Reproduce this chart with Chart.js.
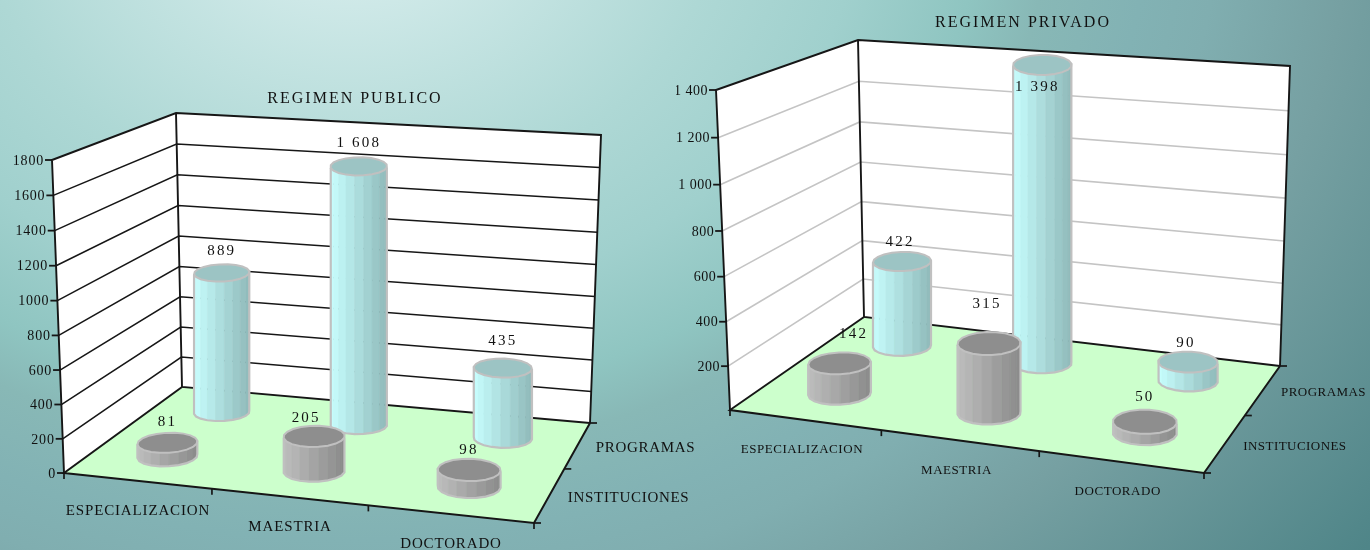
<!DOCTYPE html>
<html>
<head>
    <meta charset="UTF-8">
    <title>Regimen publico y privado</title>
    <script src="https://cdn.jsdelivr.net/npm/chart.js"></script>
    <style>
        html, body { margin: 0; height: 100%; overflow: hidden; }
        body {
            width: 1370px; height: 550px; position: relative;
            background: radial-gradient(ellipse 1000px 800px at 350px -100px, #d6ecec 0, #cfe9e8 12%, #aed8d5 37%, #a0d0cd 51%, #8fc5c1 63%, #88b8b6 70%, #82b2b4 80%, #80aeb0 87%, #76a0a2 100%, #4f8588 130%);
        }
        .panel { position: absolute; top: 0; height: 550px; }
        canvas { display: block; }
    </style>
</head>
<body>
    <div class="panel" style="left:0;width:710px"><canvas id="publico"></canvas></div>
    <div class="panel" style="left:676px;width:694px"><canvas id="privado"></canvas></div>

    <script>
        const categorias = ["ESPECIALIZACION", "MAESTRIA", "DOCTORADO"];
        const series = ["INSTITUCIONES", "PROGRAMAS"];
        const publicoInstituciones = [81, 205, 98];
        const publicoProgramas = [889, 1608, 435];
        const privadoInstituciones = [142, 315, 50];
        const privadoProgramas = [422, 1398, 90];

        const SERIF = "'Liberation Serif', 'Times New Roman', serif";
        const colores = [
            { claro: [190, 190, 190], oscuro: [138, 138, 138], tapa: "#8e8e8e" },
            { claro: [200, 255, 255], oscuro: [143, 185, 185], tapa: "#9cc4c4" }
        ];

        // proyecta el cuadrado unidad sobre un cuadrilatero
        function homografia(q) {
            const [p0, p1, p2, p3] = q;
            const dx1 = p1[0] - p2[0], dx2 = p3[0] - p2[0], sx = p0[0] - p1[0] + p2[0] - p3[0];
            const dy1 = p1[1] - p2[1], dy2 = p3[1] - p2[1], sy = p0[1] - p1[1] + p2[1] - p3[1];
            const den = dx1 * dy2 - dx2 * dy1;
            const g = (sx * dy2 - dx2 * sy) / den;
            const h = (dx1 * sy - sx * dy1) / den;
            const a = p1[0] - p0[0] + g * p1[0], b = p3[0] - p0[0] + h * p3[0];
            const d = p1[1] - p0[1] + g * p1[1], e = p3[1] - p0[1] + h * p3[1];
            return (u, v) => {
                const w = g * u + h * v + 1;
                return [(a * u + b * v + p0[0]) / w, (d * u + e * v + p0[1]) / w];
            };
        }

        function crearProyeccion(cfg) {
            const piso = homografia(cfg.piso);
            const techo = homografia(cfg.techo);
            return (u, v, alto) => {
                const s = alto / (alto + cfg.fuga * (1 - alto));
                const a = piso(u, v), b = techo(u, v);
                return [a[0] + (b[0] - a[0]) * s, a[1] + (b[1] - a[1]) * s];
            };
        }

        function linea(ctx, puntos, color, ancho) {
            ctx.beginPath();
            puntos.forEach((p, i) => i ? ctx.lineTo(p[0], p[1]) : ctx.moveTo(p[0], p[1]));
            ctx.strokeStyle = color;
            ctx.lineWidth = ancho;
            ctx.stroke();
        }

        function relleno(ctx, puntos, color) {
            ctx.beginPath();
            puntos.forEach((p, i) => i ? ctx.lineTo(p[0], p[1]) : ctx.moveTo(p[0], p[1]));
            ctx.closePath();
            ctx.fillStyle = color;
            ctx.fill();
        }

        function texto(ctx, cadena, x, y, fuente, espacio, alineado) {
            ctx.font = fuente;
            ctx.letterSpacing = espacio + "px";
            ctx.textAlign = alineado;
            ctx.textBaseline = "middle";
            ctx.fillStyle = "#111";
            ctx.fillText(cadena, x, y);
        }

        function miles(n) {
            return n >= 1000 ? String(n).replace(/(\d)(\d{3})$/, "$1 $2") : String(n);
        }

        // paredes, piso, rejilla y rotulos, tomados de las escalas del grafico
        function dibujarCaja(chart, cfg) {
            const ctx = chart.ctx, P = crearProyeccion(cfg), escalaY = chart.scales.y;
            const area = chart.chartArea;
            const negro = "#161616";
            ctx.save();
            ctx.translate(-cfg.desplazar, 0);

            relleno(ctx, [P(0, 0, 0), P(0, 1, 0), P(0, 1, 1), P(0, 0, 1)], "#fff");
            relleno(ctx, [P(0, 1, 0), P(1, 1, 0), P(1, 1, 1), P(0, 1, 1)], "#fff");
            relleno(ctx, [P(0, 0, 0), P(1, 0, 0), P(1, 1, 0), P(0, 1, 0)], "#ccffcc");

            escalaY.ticks.forEach(t => {
                const alto = (area.bottom - escalaY.getPixelForValue(t.value)) / area.height;
                if (alto > 0 && alto < 1) {
                    linea(ctx, [P(0, 0, alto), P(0, 1, alto), P(1, 1, alto)], cfg.rejilla, cfg.anchoRejilla);
                }
                if (t.value > 0 || cfg.conCero) {
                    const p = P(0, 0, alto);
                    linea(ctx, [[p[0] - 7, p[1]], p], negro, 1.8);
                    texto(ctx, cfg.miles ? miles(t.value) : String(t.value), p[0] - 8, p[1] + 1, cfg.fuenteY, cfg.espacioY, "right");
                }
            });

            linea(ctx, [P(0, 0, 0), P(0, 0, 1), P(0, 1, 1), P(1, 1, 1), P(1, 1, 0)], negro, 1.9);
            linea(ctx, [P(0, 1, 1), P(0, 1, 0), P(1, 1, 0)], negro, 1.9);
            linea(ctx, [P(0, 1, 0), P(0, 0, 0), P(1, 0, 0), P(1, 1, 0)], negro, 2);

            // marcas y rotulos de las categorias
            const nCat = categorias.length;
            for (let i = 0; i <= nCat; i++) {
                const p = P(i / nCat, 0, 0);
                linea(ctx, [p, [p[0], p[1] + 6]], negro, 1.7);
            }
            categorias.forEach((c, i) => {
                const p = P((i + 0.5) / nCat, 0, 0);
                texto(ctx, c, p[0] + cfg.rotuloX[0], p[1] + cfg.rotuloX[1], cfg.fuenteX, cfg.espacioX, "center");
            });

            // eje de profundidad
            for (let i = 0; i <= series.length; i++) {
                const p = P(1, i / series.length, 0);
                linea(ctx, [p, [p[0] + 7, p[1]]], negro, 1.7);
            }
            series.forEach((s, i) => {
                const p = P(1, (i + 0.5) / series.length, 0);
                texto(ctx, s, p[0] + 18, p[1] + 3, cfg.fuenteZ, cfg.espacioZ, "left");
            });
            ctx.restore();
        }

        function cilindro(ctx, P, u, v, ru, rv, alto, color) {
            const N = 20, abajo = [], arriba = [];
            // las columnas quedan verticales en pantalla, solo sube la y
            const sube = P(u, v, alto)[1] - P(u, v, 0)[1];
            for (let k = 0; k < N; k++) {
                const t = 2 * Math.PI * (k + 0.5) / N;
                const p = P(u + ru * Math.cos(t), v + rv * Math.sin(t), 0);
                abajo.push(p);
                arriba.push([p[0], p[1] + sube]);
            }
            let izq = 0, der = 0;
            abajo.forEach((p, k) => {
                if (p[0] < abajo[izq][0]) izq = k;
                if (p[0] > abajo[der][0]) der = k;
            });
            const ancho = abajo[der][0] - abajo[izq][0];

            // de la izquierda a la derecha por el frente (v menor)
            const frente = [];
            for (let k = izq; k !== der; k = (k + 1) % N) frente.push(k);
            frente.push(der);
            for (let i = 0; i < frente.length - 1; i++) {
                const a = frente[i], b = frente[i + 1];
                const f = ((abajo[a][0] + abajo[b][0]) / 2 - abajo[izq][0]) / ancho;
                const rgb = color.claro.map((c, j) => Math.round(c + (color.oscuro[j] - c) * f));
                const css = `rgb(${rgb.join(",")})`;
                relleno(ctx, [abajo[a], abajo[b], arriba[b], arriba[a]], css);
                linea(ctx, [abajo[a], abajo[b], arriba[b], arriba[a], abajo[a]], css, 0.6);
            }
            relleno(ctx, arriba, color.tapa);
            linea(ctx, arriba.concat([arriba[0]]), "#c0c0c0", 2);
            const contorno = [arriba[izq]].concat(frente.map(k => abajo[k]), [arriba[der]]);
            linea(ctx, contorno, "#c0c0c0", 2.2);
        }

        const cubo3d = {
            id: "cubo3d",
            beforeDraw(chart) {
                chart.ctx.letterSpacing = "2px";
            },
            beforeDatasetsDraw(chart, args, cfg) {
                dibujarCaja(chart, cfg);
            },
            afterDatasetsDraw(chart, args, cfg) {
                const ctx = chart.ctx, P = crearProyeccion(cfg), area = chart.chartArea;
                ctx.save();
                ctx.translate(-cfg.desplazar, 0);
                // primero la serie del fondo
                [1, 0].forEach(d => {
                    const v = (d + 0.5) / series.length;
                    chart.getDatasetMeta(d).data.forEach(el => {
                        const u = (el.x - area.left) / area.width;
                        const ru = el.width / 2 / area.width;
                        const alto = (el.base - el.y) / area.height;
                        cilindro(ctx, P, u, v, ru, ru * 1.6, alto, colores[d]);
                    });
                });
                [1, 0].forEach(d => {
                    const v = (d + 0.5) / series.length;
                    chart.getDatasetMeta(d).data.forEach((el, i) => {
                        const u = (el.x - area.left) / area.width;
                        const alto = (el.base - el.y) / area.height;
                        const y = P(u, v, alto)[1], x = P(u, v, 0)[0], mover = cfg.etiquetas[d][i];
                        texto(ctx, miles(chart.data.datasets[d].data[i]), x + mover[0], y + mover[1], "15px " + SERIF, 2.2, "center");
                    });
                });
                ctx.restore();
            }
        };

        function crearGrafico(id, instituciones, programas, titulo, maximo, tituloArriba, cfg) {
            return new Chart(document.getElementById(id), {
                type: "bar",
                data: {
                    labels: categorias,
                    datasets: [
                        { label: series[0], data: instituciones, backgroundColor: "transparent" },
                        { label: series[1], data: programas, backgroundColor: "transparent" }
                    ]
                },
                options: {
                    responsive: true,
                    maintainAspectRatio: false,
                    animation: false,
                    datasets: { bar: { grouped: false, categoryPercentage: 1, barPercentage: 0.385 } },
                    scales: {
                        x: { display: false },
                        y: { display: false, min: 0, max: maximo, ticks: { stepSize: 200 } }
                    },
                    plugins: {
                        legend: { display: false },
                        tooltip: { enabled: false },
                        title: {
                            display: true,
                            text: titulo,
                            color: "#111",
                            font: { family: SERIF, size: 16, weight: "normal" },
                            padding: { top: tituloArriba, bottom: 4 }
                        },
                        cubo3d: cfg
                    }
                },
                plugins: [cubo3d]
            });
        }

        crearGrafico("publico", publicoInstituciones, publicoProgramas, "REGIMEN PUBLICO", 1800, 89, {
            desplazar: 0,
            piso: [[64, 473], [534, 523], [590, 423], [182, 387]],
            techo: [[52, 160], [551, 193], [601, 135], [176, 113]],
            fuga: 1.02,
            rejilla: "#161616",
            anchoRejilla: 1.5,
            conCero: true,
            miles: false,
            fuenteY: "14px " + SERIF, espacioY: 0.8,
            fuenteX: "15px " + SERIF, espacioX: 0.85,
            fuenteZ: "15px " + SERIF, espacioZ: 0.7,
            rotuloX: [1, 30],
            etiquetas: [[[0, -21], [-8, -18], [0, -20]], [[0, -22], [0, -23], [0, -27]]]
        });

        crearGrafico("privado", privadoInstituciones, privadoProgramas, "REGIMEN PRIVADO", 1400, 13, {
            desplazar: 676,
            piso: [[730, 410], [1204, 473], [1280, 366], [864, 317]],
            techo: [[716, 90], [1222, 130], [1290, 66], [858, 40]],
            fuga: 1.05,
            rejilla: "#c4c4c4",
            anchoRejilla: 1.6,
            conCero: false,
            miles: true,
            fuenteY: "14px " + SERIF, espacioY: 0.5,
            fuenteX: "13px " + SERIF, espacioX: 0.55,
            fuenteZ: "13px " + SERIF, espacioZ: 0.45,
            rotuloX: [-3, 30],
            etiquetas: [[[14, -29], [-2, -39], [0, -25]], [[-2, -19], [-5, 22], [-2, -19]]]
        });
    </script>
</body>
</html>
